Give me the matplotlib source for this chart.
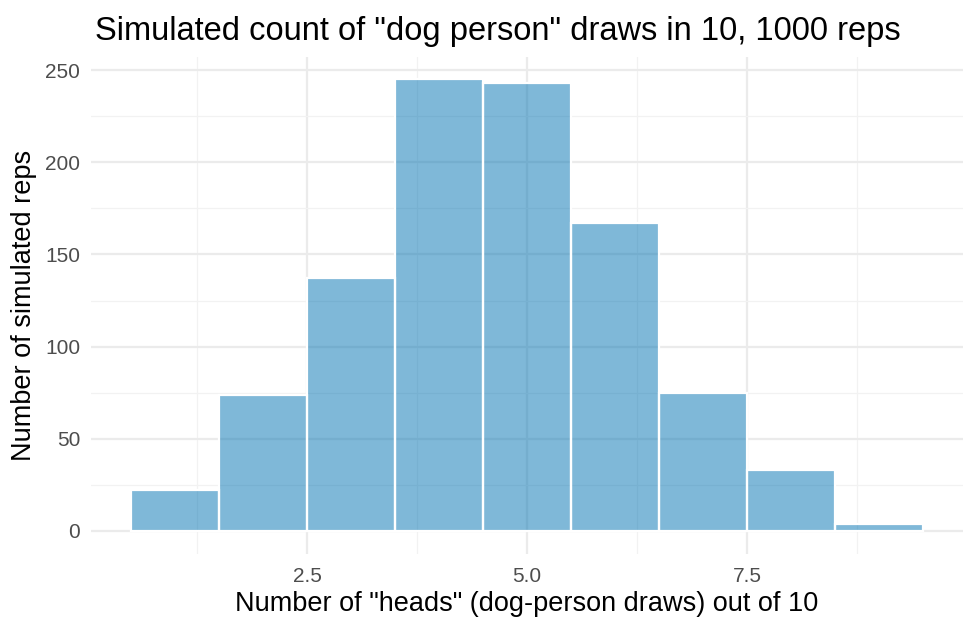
import matplotlib
matplotlib.use("Agg")
import matplotlib.pyplot as plt
from matplotlib.ticker import FixedLocator

plt.rcParams['font.family'] = ['Liberation Sans', 'DejaVu Sans']

heads = [1, 2, 3, 4, 5, 6, 7, 8, 9]
counts = [22, 74, 137, 245, 243, 167, 75, 33, 4]
x_ticks = [2.5, 5.0, 7.5]
x_tick_labels = ["2.5", "5.0", "7.5"]
x_minor = [1.25, 3.75, 6.25, 8.75]
y_ticks = [0, 50, 100, 150, 200, 250]
y_minor = [25, 75, 125, 175, 225]

title = 'Simulated count of "dog person" draws in 10, 1000 reps'
xlabel = 'Number of "heads" (dog-person draws) out of 10'
ylabel = 'Number of simulated reps'

fig = plt.figure(figsize=(9.75, 6.3), dpi=100)
ax = fig.add_axes([0.0937, 0.1213, 0.8936, 0.7887])

ax.bar(heads, counts, width=1.0, color="#0072B2", alpha=0.5,
       edgecolor="none", zorder=3)
ax.bar(heads, counts, width=1.0, color="none",
       edgecolor="white", linewidth=1.6, zorder=4)

# ggplot-style expansion
xmin, xmax = 0.5, 9.5
rx = xmax - xmin
ax.set_xlim(xmin - 0.05 * rx, xmax + 0.05 * rx)
ymax = max(counts)
ax.set_ylim(-0.05 * ymax, ymax * 1.05)

ax.xaxis.set_major_locator(FixedLocator(x_ticks))
ax.set_xticklabels(x_tick_labels)
ax.xaxis.set_minor_locator(FixedLocator(x_minor))
ax.yaxis.set_major_locator(FixedLocator(y_ticks))
ax.yaxis.set_minor_locator(FixedLocator(y_minor))

ax.grid(which="major", color="#EBEBEB", linewidth=1.6, zorder=0)
ax.grid(which="minor", color="#F2F2F2", linewidth=0.9, zorder=0)
ax.set_axisbelow(True)

for s in ax.spines.values():
    s.set_visible(False)
ax.tick_params(which="both", length=0)
ax.tick_params(axis="both", labelsize=15, labelcolor="#4D4D4D")
ax.tick_params(axis="x", pad=10)
ax.tick_params(axis="y", pad=8)

ax.set_title(title, fontsize=23.5, loc="left", x=0.004, pad=12, color="black")
ax.set_xlabel(xlabel, fontsize=19.5, labelpad=3)
ax.set_ylabel(ylabel, fontsize=19.5, labelpad=6)

fig.savefig("out.png", dpi=100, facecolor="white")
